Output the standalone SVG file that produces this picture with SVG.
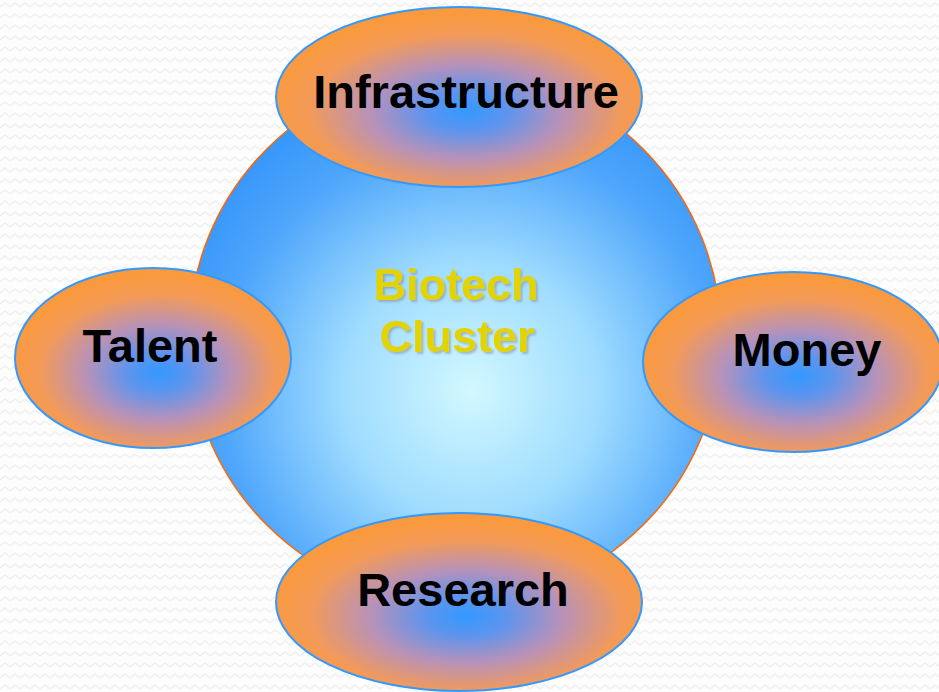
<svg xmlns="http://www.w3.org/2000/svg" width="939" height="692" viewBox="0 0 939 692">
  <defs>
    <pattern id="bgpat" width="10" height="11" patternUnits="userSpaceOnUse">
      <rect width="10" height="11" fill="#fdfdfd"/>
      <polyline points="0,7 5,3 10,7" fill="none" stroke="#f0f0f0" stroke-width="1.5"/>
    </pattern>
    <radialGradient id="hubGrad" cx="0.53" cy="0.6" r="0.6">
      <stop offset="0" stop-color="#d2f8ff"/>
      <stop offset="0.4" stop-color="#9fdcff"/>
      <stop offset="0.78" stop-color="#4fa6fb"/>
      <stop offset="1" stop-color="#3596fb"/>
    </radialGradient>
    <radialGradient id="nodeGrad" cx="0.52" cy="0.58" r="0.55">
      <stop offset="0" stop-color="#3399ff"/>
      <stop offset="0.2" stop-color="#5d94ee"/>
      <stop offset="0.48" stop-color="#b892b8"/>
      <stop offset="0.78" stop-color="#f39a58"/>
      <stop offset="1" stop-color="#fb9a3c"/>
    </radialGradient>
    <filter id="shadow" x="-10%" y="-20%" width="120%" height="140%">
      <feDropShadow dx="2" dy="2" stdDeviation="1" flood-color="#808080" flood-opacity="0.5"/>
    </filter>
  </defs>
  <style>
    .node { fill: url(#nodeGrad); stroke: #3399ff; stroke-width: 2; }
    .label { font-family: "Liberation Sans", Arial, sans-serif; font-weight: bold; font-size: 47px; fill: #000000; text-anchor: middle; }
    .hub { fill: url(#hubGrad); stroke: #ff6600; stroke-width: 1.5; }
    .hubtext { font-family: "Liberation Sans", Arial, sans-serif; font-weight: bold; font-size: 45px; text-anchor: middle; fill: #e3d300; filter: url(#shadow); }
  </style>
  <rect width="939" height="692" fill="url(#bgpat)"/>

  <g id="connectors"></g>

  <g id="biotech-cluster">
    <circle class="hub" cx="455" cy="337" r="266"/>
    <text class="hubtext" x="456" y="300">Biotech</text>
    <text class="hubtext" x="457" y="352">Cluster</text>
  </g>

  <g id="infrastructure">
    <ellipse class="node" cx="459" cy="97" rx="183" ry="90"/>
    <text class="label" x="466" y="108">Infrastructure</text>
  </g>

  <g id="talent">
    <ellipse class="node" cx="153" cy="358" rx="138" ry="90"/>
    <text class="label" x="150" y="362">Talent</text>
  </g>

  <g id="money">
    <ellipse class="node" cx="793" cy="362" rx="150" ry="90"/>
    <text class="label" x="807" y="366">Money</text>
  </g>

  <g id="research">
    <ellipse class="node" cx="459" cy="602" rx="183" ry="89"/>
    <text class="label" x="463" y="606">Research</text>
  </g>
</svg>
